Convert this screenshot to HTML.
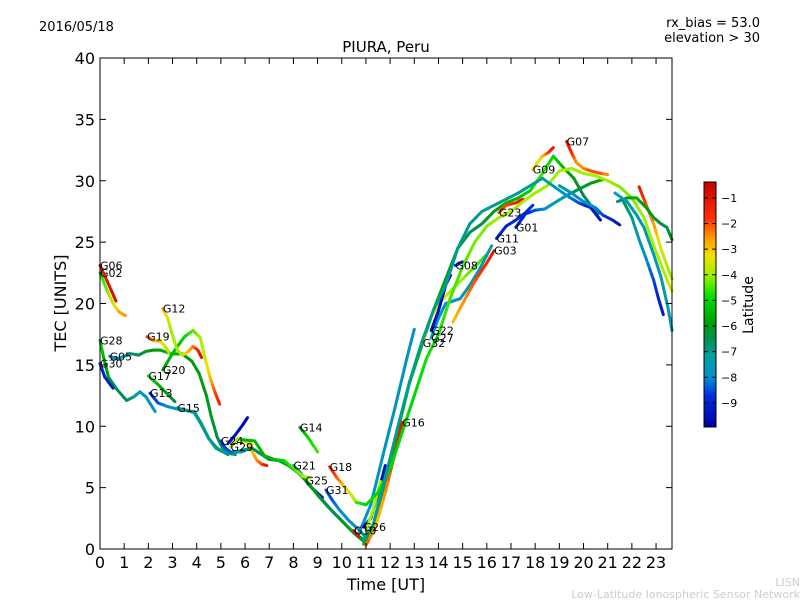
<!DOCTYPE html>
<html><head><meta charset="utf-8"><style>
body{margin:0;background:#fff;}
svg{display:block;font-family:"DejaVu Sans","Liberation Sans",sans-serif;}
</style></head><body>
<svg id="chart" width="800" height="600" viewBox="0 0 800 600">
<rect x="0" y="0" width="800" height="600" fill="#fff"/>
<text x="39" y="31" font-size="13">2016/05/18</text>
<text x="760" y="27" font-size="13" text-anchor="end">rx_bias = 53.0</text>
<text x="760" y="42" font-size="13" text-anchor="end">elevation &gt; 30</text>
<text x="386" y="52" font-size="15" text-anchor="middle">PIURA, Peru</text>
<g id="tracks"></g>
<g id="labels"></g>
<rect x="100" y="58" width="572" height="491" fill="none" stroke="#000" stroke-width="1"/>
<g id="axes"></g>
<text x="386" y="590" font-size="16" text-anchor="middle">Time [UT]</text>
<text transform="translate(66,303) rotate(-90)" font-size="16" text-anchor="middle">TEC [UNITS]</text>
<defs><linearGradient id="cmap" x1="0" y1="1" x2="0" y2="0"></linearGradient></defs>
<rect x="704" y="182" width="12" height="245" fill="url(#cmap)" stroke="#000" stroke-width="1"/>
<g id="cbticks"></g>
<text transform="translate(753,305) rotate(-90)" font-size="14" text-anchor="middle">Latitude</text>
<text x="800" y="586" font-size="11" fill="#ccc" text-anchor="end">LISN</text>
<text x="800" y="598" font-size="11" fill="#ccc" text-anchor="end">Low-Latitude Ionospheric Sensor Network</text>
</svg>
<script>
const xTicks=[0,1,2,3,4,5,6,7,8,9,10,11,12,13,14,15,16,17,18,19,20,21,22,23];
const yTicks=[0,5,10,15,20,25,30,35,40];
const cbTicks=[-1,-2,-3,-4,-5,-6,-7,-8,-9];
const trackNames=["G06","G02","G28","G30","G05","G20","G12","G19","G17","G13","G15","G24","G29","","","G14","G21","G25","G18","","","","G31","","G16","G10","G26","","G32","G27","G22","G03","G08","G11","G23","G01","G09","G07","","","","","",""];
const trackTimes=[
[0,0.3,0.66],
[0,0.3,0.6,0.8,1.05],
[0,0.15,0.35,0.7,1.1,1.4,1.65,1.9,2.28],
[0,0.2,0.54],
[0.4,0.7,1.0,1.3,1.6,1.9,2.2,2.5,2.8,3.0,3.4,3.8,4.1,4.4,4.6,4.85,5.1,5.3,5.6],
[2.6,2.9,3.2,3.5,3.85,4.15,4.35,4.55,4.75,4.95],
[2.6,2.8,3.0,3.2,3.4,3.6,3.85,4.05,4.2],
[1.95,2.2,2.5,2.7,2.85],
[2.0,2.4,2.8,3.1],
[2.07,2.4,2.8,3.2,3.6,3.9,4.2,4.5,4.8,5.0,5.3],
[3.2,3.5,3.9,4.2,4.5,4.8,5.0,5.3,5.6],
[5.0,5.2,5.4,5.8,6.0],
[5.4,5.7,6.0,6.3],
[5.3,5.6,5.9,6.1],
[6.1,6.3,6.5,6.7,6.9],
[8.27,8.6,9.0],
[8.0,8.3,8.6,8.9,9.2,9.6,10.0,10.4,10.8,11.0],
[8.5,8.8,9.2],
[9.5,9.8,10.1,10.4,10.6],
[5.6,6.0,6.3,6.6,7.0,7.4,7.8,8.2,8.6,9.0,9.4,9.8,10.2,10.5,10.8,11.0],
[5.9,6.4,6.8,7.2,7.6,8.0,8.4,8.7],
[10.67,11.2,11.7,12.2,12.7,13.0],
[9.35,9.6,9.9,10.3,10.75,11.1],
[10.9,11.3,11.8,12.3,12.8,13.3,13.8,14.3,14.8,15.3,15.8,16.3,16.8,17.3,17.8,18.3,18.75,19.2,19.6,20.0,20.3,20.6],
[12.5,12.2,11.8,11.4,11.0],
[10.5,10.7],
[10.9,11.2,11.5,11.8],
[11.0,11.3,11.6],
[13.35,13.6,13.9,14.2,14.6,15.0,15.5,16.0],
[13.7,14.0,14.3,14.6,14.9,15.3,15.7,16.2],
[13.7,14.0,14.3,14.5],
[16.3,16.0,15.5,15.0,14.6],
[14.7,15.0],
[16.4,16.8,17.2,17.6,17.9],
[16.5,16.8,17.2,17.5],
[17.2,17.6,18.0,18.4,18.8,19.3,19.8,20.3,20.8],
[17.9,18.1,18.3,18.55,18.75],
[19.3,19.5,19.7,20.0,20.3,20.7,21.0],
[10.6,11.0,11.5,12.0,12.5,13.0,13.5,14.0,14.5,15.0,15.5,16.0,16.5,17.0,17.5,18.0,18.5,19.0,19.5,20.0,20.5,21.0,21.5,22.0,22.5,23.0,23.4,23.66],
[10.9,11.3,11.8,12.3,12.8,13.3,13.8,14.3,14.8,15.3,15.8,16.3,16.8,17.3,17.8,18.3,18.8,19.3,19.8,20.3,20.7],
[19.0,19.5,20.0,20.5,20.8,21.2,21.5],
[22.3,22.6,22.9,23.2,23.5,23.66],
[21.4,21.8,22.2,22.6,22.9,23.2,23.45,23.66],
[21.6,22.0,22.3,22.6,22.9,23.1,23.3],
[21.3,21.8,22.2,22.5,22.9,23.2,23.5,23.66]
];
const trackTec=[
[23.1,21.8,20.2],
[22.5,21,19.8,19.3,19.0],
[17,15.6,14,13,12.1,12.4,12.8,12.4,11.2],
[15.1,14,13.1],
[15.7,15.5,15.7,15.9,15.8,16.1,16.2,16.2,16.0,15.9,15.9,15.3,14.3,12.5,10.8,9.1,8.1,7.8,7.7],
[14.6,15.6,16.5,17.3,17.8,17.2,15.5,14.0,12.8,11.8],
[19.6,18.8,17.4,16.2,15.8,16.0,16.5,16.2,15.6],
[17.3,17.0,16.9,16.5,16.0],
[14.1,13.4,12.6,12.0],
[12.7,11.9,11.6,11.4,11.3,11.1,10.1,9.0,8.3,8.0,7.7],
[11.5,11.3,11.2,10.2,9.0,8.2,8.0,7.8,7.8],
[8.8,8.2,7.9,7.9,8.0],
[8.3,9.0,8.8,8.5],
[8.6,9.3,10.1,10.7],
[8.6,7.9,7.2,6.9,6.8],
[9.9,9.1,7.9],
[6.8,6.2,5.3,4.7,4.0,3.1,2.3,1.5,0.9,0.6],
[5.6,4.9,4.2],
[6.7,5.8,5.1,4.4,3.8],
[7.9,8.1,8.2,7.8,7.3,7.2,6.8,6.2,5.4,4.4,3.5,2.7,1.9,1.3,0.8,0.5],
[8.9,8.8,7.6,7.3,7.2,6.6,5.9,5.8],
[1.1,3.6,7.6,11.5,15.6,17.9],
[4.8,4.0,3.2,2.3,1.5,0.7],
[0.4,1.5,5,9.5,13.5,16.5,19.5,22,24.5,25.8,26.5,27.5,28.2,28.6,29.2,30.6,32.0,31.0,30.2,28.8,28.0,27.3],
[10.3,7.8,4.6,1.8,0.3],
[1.5,1.0],
[1.8,2.5,4.5,6.8],
[1.5,3.2,5.5],
[16.8,18.5,19.6,20.4,21.2,22,23,24],
[17.2,18.8,20,20.2,20.4,21.5,22.8,24.7],
[17.8,19.4,21.5,22.3],
[24.3,23.3,21.8,20,18.5],
[23.1,23.4],
[25.3,26.3,26.8,27.4,28.0],
[27.4,28.0,28.2,28.5],
[26.2,27.3,27.6,27.7,28.2,28.8,29.3,29.8,30.1],
[30.9,31.5,32.0,32.3,32.7],
[33.2,32.3,31.5,31.0,30.8,30.6,30.5],
[3.8,3.6,4.6,6.5,9.5,12.5,15.5,17.5,20.5,23,25,26.3,27,27.5,28.3,29.0,29.6,30.8,31.0,30.6,30.4,30.0,29.5,28.6,27.0,24.2,22.2,21],
[0.7,2.0,5.8,9.8,13.6,16.8,19.5,21.5,24.5,26.5,27.5,28.0,28.5,29.0,29.6,30.2,29.5,28.8,28.2,27.8,26.8],
[29.6,29.0,28.3,27.8,27.2,26.8,26.4],
[29.5,28,26.5,24.5,22.8,22],
[28.3,28.6,28.6,27.8,27,26.5,26.2,25.2],
[28.5,27,25.2,23.6,21.9,20.4,19.1],
[29,28.3,27.2,26.2,24,22.2,19.6,17.8]
];
const trackLat=[
[-1.5,-1,-0.8],
[-4.8,-4.3,-3.5,-2.8,-2.5],
[-5,-5.5,-6,-6.5,-6.5,-7,-7.5,-7.8,-8],
[-9,-9,-9.2],
[-8,-8,-7.5,-7,-6.5,-6,-6,-5.8,-5.5,-5.5,-5.8,-6,-6,-6,-6.2,-6.5,-6.5,-6.5,-6.5],
[-6,-5.5,-5.5,-5,-4.5,-4,-3.5,-3,-2,-1.5],
[-2.5,-3.5,-4,-4,-4,-3,-2.5,-1.5,-1],
[-1.5,-2.5,-3,-3.5,-4],
[-4.8,-5.5,-6,-6.5],
[-9,-8.5,-8,-7.8,-7.5,-7.3,-7,-7,-7,-6.5,-6.5],
[-7,-7,-7,-7,-7,-7,-7,-7,-7],
[-9,-8.5,-8.5,-8,-8],
[-3.5,-4,-4,-3.5],
[-9.5,-9.5,-9.6,-9.7],
[-3,-3,-2.5,-2,-1],
[-6,-5,-4.5],
[-7,-7,-7.5,-8,-8,-7.5,-7,-7,-6.5,-6.5],
[-9,-9.2,-9.4],
[-1.5,-2,-3,-3.5,-4],
[-7,-7,-6.5,-6.5,-6.5,-6.5,-6,-6,-6,-6,-6.5,-6.5,-6,-6,-6,-6],
[-5.5,-5.5,-5.5,-5.5,-5,-4.5,-4,-4],
[-8,-7.8,-7.8,-7.8,-7.8,-8],
[-8.5,-8.5,-8,-8,-7.5,-7],
[-5.5,-5.5,-5.5,-5.5,-5.5,-5.5,-5.5,-6,-6,-6.5,-6.5,-6,-5.5,-5.5,-5,-4.5,-5,-5.5,-6,-6.5,-6.5,-6.5],
[-1,-1.5,-2.5,-3,-2],
[-1,-1],
[-9.5,-9.5,-9.5,-9.5],
[-4,-4,-4],
[-3,-3,-3.5,-3.5,-4,-4,-4.5,-4.5],
[-8,-8,-8,-7.8,-7.5,-7.5,-7.5,-7.5],
[-9.5,-9.5,-9.5,-9.5],
[-1,-1.5,-2,-2.5,-3],
[-9,-9],
[-9,-9,-9,-8.8,-8.8],
[-2,-2,-1.5,-1],
[-9,-9,-8.5,-8,-7.5,-7,-6.5,-6,-5.5],
[-3,-3.5,-3,-2,-1],
[-1,-1.5,-2.5,-2.5,-2,-2,-2.5],
[-4.5,-5,-5,-5,-5,-5,-4.8,-4.8,-4.5,-4.5,-4.2,-4.2,-4,-4,-4,-4,-4,-4,-4,-4,-4,-4,-4.2,-4.2,-4,-4,-3.8,-3.5],
[-7,-7,-7,-7,-7,-7,-7,-7,-7,-7,-7,-7,-7,-7,-7,-7,-7.5,-8,-8.5,-9,-9.5],
[-7,-7.5,-8,-8,-8.5,-9,-9.3],
[-1,-2,-2.5,-3.5,-4,-4],
[-7,-6,-5.5,-6,-6,-6.5,-6.5,-6],
[-6.5,-7,-7.5,-8,-8.5,-9,-9.3],
[-7.5,-7.5,-7.5,-7.5,-7.5,-7.5,-7.5,-7.5]
];
const NS='http://www.w3.org/2000/svg';
const X0=100,X1=672,Y0=549,Y1=58,TMAX=23.66,VMAX=40;
function xs(t){return X0+t*(X1-X0)/TMAX;}
function ys(v){return Y0-v*(Y0-Y1)/VMAX;}
const LMIN=-9.94,LMAX=-0.38,CB_T=182,CB_B=427;
function cbY(l){return CB_B-(l-LMIN)/(LMAX-LMIN)*(CB_B-CB_T);}
const CM=[[0,0,0,160],[0.13,0,48,224],[0.2,0,144,208],[0.29,0,160,160],[0.36,0,143,80],[0.43,0,160,0],[0.53,0,224,0],[0.62,160,240,0],[0.70,240,224,0],[0.78,255,144,0],[0.85,255,48,0],[1,200,0,0]];
function cmap(l){let x=Math.max(0,Math.min(1,(l-LMIN)/(LMAX-LMIN)));
for(let i=0;i<CM.length-1;i++){const a=CM[i],b=CM[i+1];if(x<=b[0]){const f=(x-a[0])/(b[0]-a[0]);
return 'rgb('+Math.round(a[1]+(b[1]-a[1])*f)+','+Math.round(a[2]+(b[2]-a[2])*f)+','+Math.round(a[3]+(b[3]-a[3])*f)+')';}}
return 'rgb(200,0,0)';}
const grad=document.getElementById('cmap');
CM.forEach(s=>{const st=document.createElementNS(NS,'stop');st.setAttribute('offset',s[0]);st.setAttribute('stop-color','rgb('+s[1]+','+s[2]+','+s[3]+')');grad.appendChild(st);});
const tg=document.getElementById('tracks'),lg=document.getElementById('labels');
for(let k=0;k<trackTimes.length;k++){
const T=trackTimes[k],V=trackTec[k],L=trackLat[k];
const g=document.createElementNS(NS,'g');


for(let i=0;i<T.length-1;i++){
const n=4;
for(let j=0;j<n;j++){
const a=j/n,b=(j+1)/n;
const ln=document.createElementNS(NS,'line');
ln.setAttribute('x1',xs(T[i]+(T[i+1]-T[i])*a));ln.setAttribute('y1',ys(V[i]+(V[i+1]-V[i])*a));
ln.setAttribute('x2',xs(T[i]+(T[i+1]-T[i])*b));ln.setAttribute('y2',ys(V[i]+(V[i+1]-V[i])*b));
ln.setAttribute('stroke',cmap(L[i]+(L[i+1]-L[i])*(a+b)/2));
ln.setAttribute('stroke-width','3');ln.setAttribute('stroke-linecap','round');


g.appendChild(ln);}}
tg.appendChild(g);
if(trackNames[k]){
const tx=document.createElementNS(NS,'text');
tx.setAttribute('x',xs(T[0]));tx.setAttribute('y',ys(V[0])+4);
tx.setAttribute('font-size','11');tx.textContent=trackNames[k];


lg.appendChild(tx);}}
const ax=document.getElementById('axes');
function line(x1,y1,x2,y2,p){const l=document.createElementNS(NS,'line');l.setAttribute('x1',x1);l.setAttribute('y1',y1);l.setAttribute('x2',x2);l.setAttribute('y2',y2);l.setAttribute('stroke','#000');l.setAttribute('stroke-width','1');p.appendChild(l);return l;}
function text(x,y,s,anchor,size,p){const t=document.createElementNS(NS,'text');t.setAttribute('x',x);t.setAttribute('y',y);t.setAttribute('text-anchor',anchor);t.setAttribute('font-size',size);t.textContent=s;p.appendChild(t);return t;}
xTicks.forEach(t=>{const x=xs(t);
const a=line(x,Y0,x,Y0-6,ax);
const b=line(x,Y1,x,Y1+6,ax);
const l=text(x,Y0+19,String(t),'middle',16,ax);});
yTicks.forEach(v=>{const y=ys(v);
const a=line(X0,y,X0+6,y,ax);
const b=line(X1,y,X1-6,y,ax);
const l=text(X0-5,y+6,String(v),'end',16,ax);});
const cb=document.getElementById('cbticks');
cbTicks.forEach(v=>{const y=cbY(v);
const a=line(704,y,708,y,cb);
const b=line(716,y,712,y,cb);
const l=text(721,y+4,'\u2212'+Math.abs(v),'start',11,cb);});
</script>
</body></html>
